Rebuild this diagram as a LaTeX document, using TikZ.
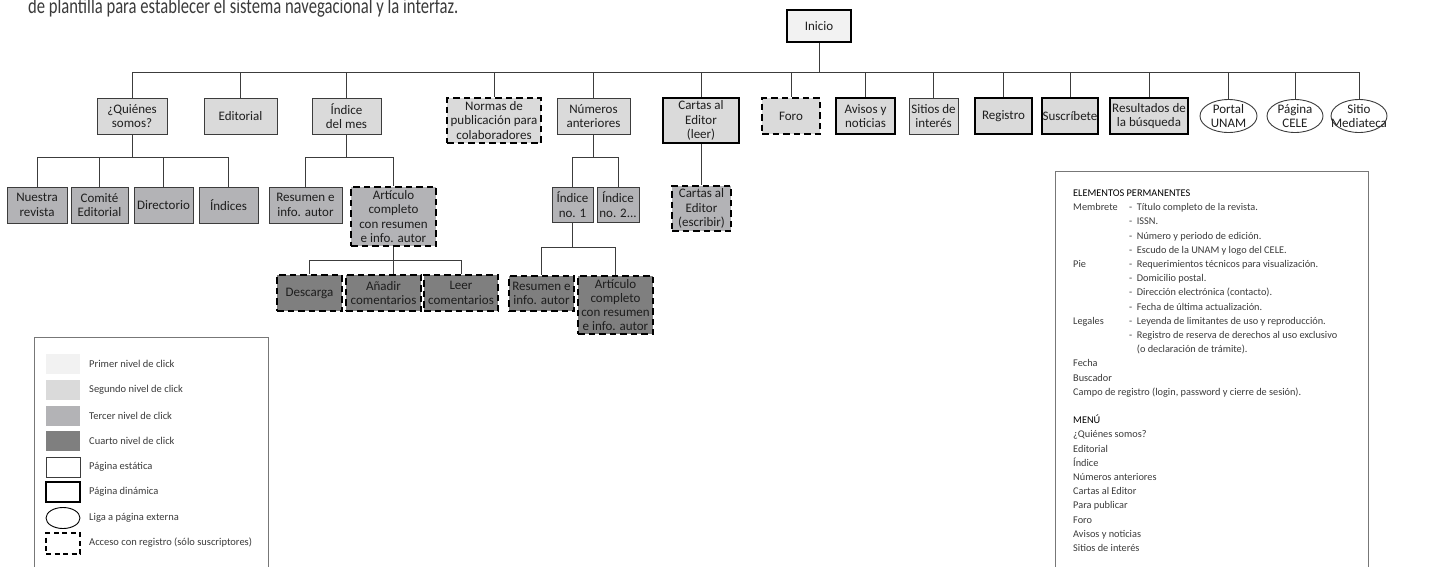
\documentclass[tikz,border=0pt]{standalone}
\usepackage{fontspec}
\usepackage{graphicx}
\setmainfont{Carlito}
\usetikzlibrary{shapes.geometric,backgrounds}

% fills for the click levels
\definecolor{lvlone}{HTML}{F2F2F2}
\definecolor{lvltwo}{HTML}{DADADA}
\definecolor{lvlthree}{HTML}{B3B3B6}
\definecolor{lvlfour}{HTML}{7F7F7F}
% strokes and text
\definecolor{edgegray}{HTML}{3C3C3C}
\definecolor{framegray}{HTML}{777777}
\definecolor{inkgray}{HTML}{1E1E1E}
\definecolor{softgray}{HTML}{3A3A3A}

\newcommand\boxfont{\fontsize{13}{14.3}\selectfont}
\newcommand\legfont{\fontsize{10.5}{12}\selectfont}
\newcommand\notefont{\fontsize{10.3}{12}\selectfont}
\newcommand\introfont{\fontsize{22}{24}\selectfont}

\tikzset{
  base/.style={rectangle, align=center, inner sep=0.5pt, text=inkgray, font=\boxfont},
  static/.style={base, draw=edgegray, line width=0.9pt},
  dynamic/.style={base, draw=black, line width=2.8pt},
  members/.style={base, draw=black, line width=2.6pt, dash pattern=on 6.5pt off 4pt},
  external/.style={ellipse, draw=edgegray, line width=0.9pt, fill=white, inner sep=0pt},
  boxtext/.style={align=center, inner sep=0pt, text=inkgray, font=\boxfont},
  sz/.style 2 args={minimum width=#1pt, minimum height=#2pt},
  link/.style={draw=edgegray, line width=1pt},
  swatch/.style={rectangle, inner sep=0pt, minimum width=34pt, minimum height=20pt},
  legtext/.style={anchor=west, inner sep=0pt, text=softgray, font=\legfont},
  notetext/.style={anchor=base west, inner sep=0pt, text=softgray, font=\notefont},
  notehead/.style={notetext, text=black},
}

\begin{document}
\begin{tikzpicture}[x=1pt,y=-1pt]
\useasboundingbox (0,0) rectangle (1430,566);

% running text above the chart
\node[anchor=base west, inner sep=0pt, text=softgray, font=\introfont] (intro) at (28,13)
  {\scalebox{0.755}[1]{de plantilla para establecer el sistema navegacional y la interfaz.}};

% ---------- root ----------
\node[dynamic, fill=lvlone, sz={64}{32}] (inicio) at (819,26) {Inicio};

% ---------- second level ----------
\node[static,  fill=lvltwo, sz={70}{36}] (quien)    at (132,116)    {¿Quiénes\\somos?};
\node[static,  fill=lvltwo, sz={73}{36}] (edit)     at (240.5,116)  {Editorial};
\node[static,  fill=lvltwo, sz={69}{36}] (imes)     at (346.5,116)  {Índice\\del mes};
\node[members, fill=lvltwo, sz={94}{45}] (normas)   at (494,120.5)  {Normas de\\publicación para\\colaboradores};
\node[static,  fill=lvltwo, sz={73}{36}] (numant)   at (593.5,116)  {Números\\anteriores};
\node[dynamic, fill=lvltwo, sz={76}{45}] (cartasl)  at (701,120.5)  {Cartas al\\Editor\\(leer)};
\node[members, fill=lvltwo, sz={58}{36}] (foro)     at (791,116)    {Foro};
\node[dynamic, fill=lvltwo, sz={59}{36}] (avisos)   at (865.5,116)  {Avisos y\\noticias};
\node[static,  fill=lvltwo, sz={49}{36}] (sitios)   at (933.5,116)  {Sitios de\\interés};
\node[dynamic, fill=lvltwo, sz={57}{36}] (registro) at (1003.5,116) {Registro};
\node[dynamic, fill=lvltwo, sz={56}{36}] (suscr)    at (1070,116)   {Suscríbete};
\node[dynamic, fill=lvltwo, sz={78}{36}] (result)   at (1149,116)   {Resultados de\\la búsqueda};
\node[external, sz={57}{33}] (portal) at (1228.5,116) {};
\node[boxtext] (portal-t) at (portal.center) {Portal\\UNAM};
\node[external, sz={56}{33}] (pagina) at (1295,116) {};
\node[boxtext] (pagina-t) at (pagina.center) {Página\\CELE};
\node[external, sz={56}{33}] (mediat) at (1359,116) {};
\node[boxtext] (mediat-t) at (mediat.center) {Sitio\\Mediateca};

% ---------- third level ----------
\node[static,  fill=lvlthree, sz={60}{36}] (nuestra) at (37,205)    {Nuestra\\revista};
\node[static,  fill=lvlthree, sz={57}{36}] (comite)  at (99.5,205)  {Comité\\Editorial};
\node[static,  fill=lvlthree, sz={59}{36}] (direct)  at (163.5,205) {Directorio};
\node[static,  fill=lvlthree, sz={59}{36}] (indices) at (228.5,205) {Índices};
\node[static,  fill=lvlthree, sz={73}{36}] (resumA)  at (305.5,205) {Resumen e\\info. autor};
\node[members, fill=lvlthree, sz={85}{59}] (artA)    at (393.5,216.5) {Artículo\\completo\\con resumen\\e info. autor};
\node[static,  fill=lvlthree, sz={41}{35}] (indA)    at (572.5,204.5) {Índice\\no. 1};
\node[static,  fill=lvlthree, sz={42}{35}] (indB)    at (618,204.5)   {Índice\\no. 2...};
\node[members, fill=lvlthree, sz={59}{45}] (cartase) at (701.5,208.5) {Cartas al\\Editor\\(escribir)};

% ---------- fourth level ----------
\node[members, fill=lvlfour, sz={65}{36}] (desc)   at (309.5,293) {Descarga};
\node[members, fill=lvlfour, sz={75}{36}] (anadir) at (383.5,293) {Añadir\\comentarios};
\node[members, fill=lvlfour, sz={74}{36}] (leer)   at (461,293)   {Leer\\comentarios};
\node[members, fill=lvlfour, sz={65}{35}] (resumB) at (541.5,293.5) {Resumen e\\info. autor};
\node[members, fill=lvlfour, sz={75}{58}] (artB)   at (615.5,305) {Artículo\\completo\\con resumen\\e info. autor};

% ---------- connectors ----------
\coordinate (busone)   at (0,72);
\coordinate (bustwo)   at (0,157);
\coordinate (busthree) at (0,260);
\coordinate (busfour)  at (0,247);

\begin{scope}[on background layer]
  % root to second level
  \draw[link] (inicio.south) -- (inicio.south |- busone);
  \draw[link] (quien.north |- busone) -- (mediat.north |- busone);
  \foreach \n in {quien,edit,imes,normas,numant,cartasl,foro,avisos,sitios,registro,suscr,result,portal,pagina,mediat}
    \draw[link] (\n.north |- busone) -- (\n.north);

  % ¿Quiénes somos?
  \draw[link] (quien.south) -- (quien.south |- bustwo);
  \draw[link] (nuestra.north |- bustwo) -- (indices.north |- bustwo);
  \foreach \n in {nuestra,comite,direct,indices}
    \draw[link] (\n.north |- bustwo) -- (\n.north);

  % Índice del mes
  \draw[link] (imes.south) -- (imes.south |- bustwo);
  \draw[link] (resumA.north |- bustwo) -- (artA.north |- bustwo);
  \foreach \n in {resumA,artA}
    \draw[link] (\n.north |- bustwo) -- (\n.north);

  % Números anteriores
  \draw[link] (numant.south) -- (numant.south |- bustwo);
  \draw[link] (indA.north |- bustwo) -- (indB.north |- bustwo);
  \foreach \n in {indA,indB}
    \draw[link] (\n.north |- bustwo) -- (\n.north);

  % Cartas al Editor
  \draw[link] (cartasl.south) -- (cartasl.south |- cartase.north);

  % Artículo completo (Índice del mes)
  \draw[link] (artA.south) -- (artA.south |- busthree);
  \draw[link] (desc.north |- busthree) -- (leer.north |- busthree);
  \draw[link] (desc.north |- busthree) -- (desc.north);
  \draw[link] (leer.north |- busthree) -- (leer.north);
  \draw[link] (artA.south |- busthree) -- (artA.south |- anadir.north);

  % Índice no. 1
  \draw[link] (indA.south) -- (indA.south |- busfour);
  \draw[link] (resumB.north |- busfour) -- (artB.north |- busfour);
  \foreach \n in {resumB,artB}
    \draw[link] (\n.north |- busfour) -- (\n.north);
\end{scope}

% ---------- legend ----------
\draw[framegray, line width=1pt] (34,337) rectangle (268,580);
\node[swatch, fill=lvlone]   (swA) at (63,364) {};
\node[swatch, fill=lvltwo]   (swB) at (63,390) {};
\node[swatch, fill=lvlthree] (swC) at (63,416) {};
\node[swatch, fill=lvlfour]  (swD) at (63,441) {};
\node[swatch, draw=edgegray, line width=0.9pt, fill=white] (swE) at (63,467) {};
\node[swatch, draw=black, line width=2.2pt, fill=white] (swF) at (63,492) {};
\node[ellipse, draw=black, line width=0.9pt, inner sep=0pt, minimum width=34pt, minimum height=21pt] (swG) at (63,518) {};
\node[swatch, draw=black, line width=2pt, dash pattern=on 5pt off 3.5pt, minimum height=21pt] (swH) at (63,543.5) {};
\node[legtext] (lgA) at (89,364)   {Primer nivel de click};
\node[legtext] (lgB) at (89,390)   {Segundo nivel de click};
\node[legtext] (lgC) at (89,416)   {Tercer nivel de click};
\node[legtext] (lgD) at (89,441)   {Cuarto nivel de click};
\node[legtext] (lgE) at (89,467)   {Página estática};
\node[legtext] (lgF) at (89,492)   {Página dinámica};
\node[legtext] (lgG) at (89,518)   {Liga a página externa};
\node[legtext] (lgH) at (89,543)   {Acceso con registro (sólo suscriptores)};

% ---------- permanent elements and menu ----------
\draw[framegray, line width=1pt] (1055,171) rectangle (1368,580);
\node[notehead] (e0)  at (1073,196.5) {ELEMENTOS PERMANENTES};
\node[notetext] (mA)  at (1073,210.7) {Membrete};
\node[notetext] (e1)  at (1129,210.7) {-\hspace{4.5pt}Título completo de la revista.};
\node[notetext] (e2)  at (1129,224.9) {-\hspace{4.5pt}ISSN.};
\node[notetext] (e3)  at (1129,239.1) {-\hspace{4.5pt}Número y periodo de edición.};
\node[notetext] (e4)  at (1129,253.3) {-\hspace{4.5pt}Escudo de la UNAM y logo del CELE.};
\node[notetext] (mB)  at (1073,267.5) {Pie};
\node[notetext] (e5)  at (1129,267.5) {-\hspace{4.5pt}Requerimientos técnicos para visualización.};
\node[notetext] (e6)  at (1129,281.7) {-\hspace{4.5pt}Domicilio postal.};
\node[notetext] (e7)  at (1129,295.9) {-\hspace{4.5pt}Dirección electrónica (contacto).};
\node[notetext] (e8)  at (1129,310.1) {-\hspace{4.5pt}Fecha de última actualización.};
\node[notetext] (mC)  at (1073,324.3) {Legales};
\node[notetext] (e9)  at (1129,324.3) {-\hspace{4.5pt}Leyenda de limitantes de uso y reproducción.};
\node[notetext] (e10) at (1129,338.5) {-\hspace{4.5pt}Registro de reserva de derechos al uso exclusivo};
\node[notetext] (e11) at (1136.7,352.7) {(o declaración de trámite).};
\node[notetext] (e12) at (1073,366.9) {Fecha};
\node[notetext] (e13) at (1073,381.1) {Buscador};
\node[notetext] (e14) at (1073,395.3) {Campo de registro (login, password y cierre de sesión).};
\node[notehead] (e16) at (1073,423.7) {MENÚ};
\node[notetext] (e17) at (1073,437.9) {¿Quiénes somos?};
\node[notetext] (e18) at (1073,452.1) {Editorial};
\node[notetext] (e19) at (1073,466.3) {Índice};
\node[notetext] (e20) at (1073,480.5) {Números anteriores};
\node[notetext] (e21) at (1073,494.7) {Cartas al Editor};
\node[notetext] (e22) at (1073,508.9) {Para publicar};
\node[notetext] (e23) at (1073,523.1) {Foro};
\node[notetext] (e24) at (1073,537.3) {Avisos y noticias};
\node[notetext] (e25) at (1073,551.5) {Sitios de interés};
\end{tikzpicture}
\end{document}
